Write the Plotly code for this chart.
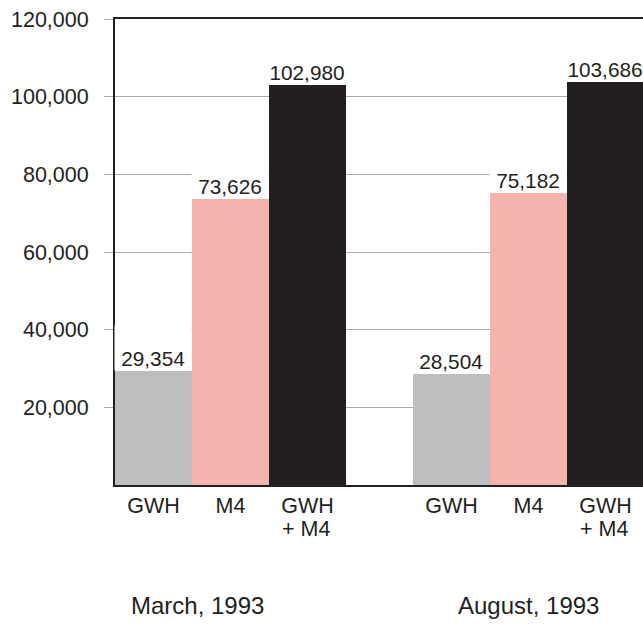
import plotly.graph_objects as go

# Survey counts by service, two reporting periods
periods = ["March, 1993", "August, 1993"]
services = ["GWH", "M4", "GWH"]
service_suffix = ["", "", "+ M4"]
gwh = [29354, 28504]
m4 = [73626, 75182]
gwh_m4 = [102980, 103686]
y_ticks = [20000, 40000, 60000, 80000, 100000, 120000]

INK = "#231f20"
GRID = "#a7a9ac"
COLORS = ["#bcbec0", "#f4b4ab", "#231f20"]
FONT = "Liberation Sans, Arial, Helvetica, sans-serif"
FS = 21.5

# bar slots: each bar is one unit wide, groups separated by a gap
group_start = [0.0, 3.87]
series = [gwh, m4, gwh_m4]

fig = go.Figure()
for s_idx, values in enumerate(series):
    xs = [g + s_idx + 0.5 for g in group_start]
    fig.add_trace(go.Bar(
        x=xs, y=values, width=1.0,
        marker=dict(color=COLORS[s_idx], line=dict(width=0)),
        showlegend=False, hoverinfo="skip",
    ))
    for x, v in zip(xs, values):
        # white label box spanning the bar width, sitting on the bar top
        box_h = 44 if v == gwh[0] else 26
        fig.add_annotation(
            x=x, y=v, xref="x", yref="y",
            text=f"{v:,}", showarrow=False,
            xanchor="center", yanchor="bottom", xshift=-1,
            width=76, height=box_h, valign="bottom",
            bgcolor="white", borderpad=0,
            font=dict(family=FONT, size=20.8, color=INK),
        )

tick_x, tick_text = [], []
for g in group_start:
    for s_idx, name in enumerate(services):
        cx = g + s_idx + 0.5
        tick_x.append(cx)
        tick_text.append(name)
        if service_suffix[s_idx]:
            # second line of the combined-service label
            fig.add_annotation(
                x=cx, y=-0.095, xref="x", yref="paper",
                text=service_suffix[s_idx], showarrow=False,
                xanchor="center", yanchor="middle", xshift=-2,
                font=dict(family=FONT, size=FS, color=INK),
            )

# period captions under each group
for x, label in zip([1.065, group_start[1] + 1.5], periods):
    fig.add_annotation(
        x=x, y=-0.258, xref="x", yref="paper",
        text=label, showarrow=False, xanchor="center", yanchor="middle",
        font=dict(family=FONT, size=24, color=INK),
    )

fig.update_layout(
    width=643, height=629,
    margin=dict(l=115, r=0, t=19, b=144, pad=0),
    paper_bgcolor="white", plot_bgcolor="white",
    bargap=0,
    font=dict(family=FONT, size=FS, color=INK),
    xaxis=dict(
        range=[0, 6.857], showline=True, linecolor=INK, linewidth=2,
        mirror=True, showgrid=False, zeroline=False,
        tickvals=tick_x, ticktext=tick_text, ticks="",
        tickfont=dict(family=FONT, size=FS, color=INK),
        ticklabelstandoff=0,
    ),
    yaxis=dict(
        range=[0, 120000], showline=True, linecolor=INK, linewidth=2,
        showgrid=True, gridcolor=GRID, gridwidth=1, zeroline=False,
        tickvals=y_ticks, ticktext=[f"{t:,}" for t in y_ticks],
        ticks="outside", ticklen=9, tickcolor=GRID, tickwidth=1,
        tickfont=dict(family=FONT, size=FS, color=INK),
        ticklabelstandoff=11,
    ),
)

fig.write_html("out.html")
